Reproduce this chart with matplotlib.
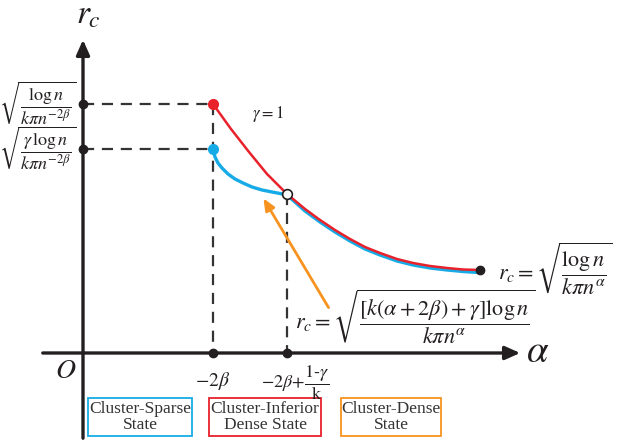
import matplotlib
matplotlib.use("Agg")
import matplotlib.pyplot as plt
from matplotlib.patches import FancyBboxPatch

plt.rcParams["mathtext.fontset"] = "stix"
plt.rcParams["font.family"] = ["Liberation Serif", "DejaVu Serif"]

# schematic units: O = (0, 0)
X_KNEE = 1.30     # -2beta
X_JOIN = 2.04     # -2beta + (1-gamma)/k
Y_TOP = 2.49      # sqrt(log n / (k pi n^-2beta))
Y_GAMMA = 2.04    # sqrt(gamma log n / (k pi n^-2beta))
Y_JOIN = 1.59

# curves
red_x = [1.30, 1.48, 1.66, 1.84, 2.04, 2.22, 2.37, 2.52, 2.67, 2.82, 2.97,
         3.14, 3.30, 3.47, 3.64, 3.80, 3.97]
red_y = [2.49, 2.24, 2.01, 1.79, 1.59, 1.44, 1.33, 1.23, 1.14, 1.06, 1.00,
         0.94, 0.90, 0.87, 0.85, 0.835, 0.83]
blue_x = [1.30, 1.32, 1.35, 1.39, 1.45, 1.52, 1.60, 1.69, 1.79, 1.89, 1.97, 2.04,
          2.22, 2.37, 2.52, 2.67, 2.82, 2.97, 3.14, 3.30, 3.47, 3.64, 3.80, 3.95]
blue_y = [2.04, 1.96, 1.90, 1.85, 1.79, 1.74, 1.70, 1.66, 1.63, 1.61, 1.595, 1.58,
          1.42, 1.31, 1.21, 1.12, 1.04, 0.98, 0.92, 0.88, 0.85, 0.83, 0.815, 0.805]

RED = "#E8212B"
BLUE = "#16ABE6"
ORANGE = "#F7931E"
DARK = "#231F20"

fig = plt.figure(figsize=(6.38, 4.46), dpi=100)
ax = fig.add_axes([0, 0, 1, 1])
ax.set_xlim(-0.83, 5.55)
ax.set_ylim(-0.93, 3.53)
ax.axis("off")

# axes with arrows
ax.annotate("", xy=(4.40, 0), xytext=(-0.43, 0),
            arrowprops=dict(arrowstyle="-|>,head_length=0.9,head_width=0.4", lw=2.4, color=DARK))
ax.annotate("", xy=(0, 3.16), xytext=(0, -0.88),
            arrowprops=dict(arrowstyle="-|>,head_length=0.9,head_width=0.4", lw=2.4, color=DARK))
ax.text(0.05, 3.38, r"$r_c$", fontsize=24, color=DARK, ha="center", va="center")
ax.text(4.55, 0.0, r"$\alpha$", fontsize=28, color=DARK, ha="center", va="center")
ax.text(-0.17, -0.18, r"$O$", fontsize=20, color=DARK, ha="center", va="center")

# dashed guides
dash = dict(color="#333333", lw=1.6, ls=(0, (5, 3.5)))
ax.plot([0, X_KNEE], [Y_TOP, Y_TOP], **dash)
ax.plot([0, X_KNEE], [Y_GAMMA, Y_GAMMA], **dash)
ax.plot([X_KNEE, X_KNEE], [Y_TOP, 0], **dash)
ax.plot([X_JOIN, X_JOIN], [Y_JOIN, 0], **dash)

# curves
ax.plot(blue_x, blue_y, color=BLUE, lw=2.4, solid_capstyle="round", zorder=3)
ax.plot(red_x, red_y, color=RED, lw=1.8, solid_capstyle="round", zorder=4)

# markers
ax.plot([0, 0, X_KNEE, X_JOIN, red_x[-1]], [Y_TOP, Y_GAMMA, 0, 0, red_y[-1]], "o",
        color=DARK, ms=6, zorder=5)
ax.plot([X_KNEE], [Y_TOP], "o", color=RED, ms=7, zorder=5)
ax.plot([X_KNEE], [Y_GAMMA], "o", color=BLUE, ms=7, zorder=5)
ax.plot([X_JOIN], [Y_JOIN], "o", mfc="white", mec=DARK, mew=1.2, ms=7, zorder=6)

# orange pointer
ax.annotate("", xy=(1.79, 1.57), xytext=(2.47, 0.43),
            arrowprops=dict(arrowstyle="-|>,head_length=0.7,head_width=0.3", lw=2.0, color=ORANGE))

# y labels
ax.text(-0.07, Y_TOP, r"$\sqrt{\dfrac{\log n}{k\pi n^{-2\beta}}}$", fontsize=13,
        color=DARK, ha="right", va="center")
ax.text(-0.07, Y_GAMMA, r"$\sqrt{\dfrac{\gamma\,\log n}{k\pi n^{-2\beta}}}$", fontsize=13,
        color=DARK, ha="right", va="center")

# x labels
ax.text(X_KNEE, -0.28, r"$-2\beta$", fontsize=14, color=DARK, ha="center", va="center")
ax.text(X_JOIN + 0.08, -0.30, r"$-2\beta\!+\!\dfrac{1\mathrm{\text{-}}\gamma}{\mathrm{k}}$",
        fontsize=13, color=DARK, ha="center", va="center")

# formulas
ax.text(1.85, 2.39, r"$\gamma=1$", fontsize=12, color=DARK, ha="center", va="center")
ax.text(4.15, 0.84, r"$r_c=\sqrt{\dfrac{\log n}{k\pi n^{\alpha}}}$", fontsize=16,
        color=DARK, ha="left", va="center")
ax.text(2.12, 0.36, r"$r_c=\sqrt{\dfrac{[k(\alpha+2\beta)+\gamma]\log n}{k\pi n^{\alpha}}}$",
        fontsize=16, color=DARK, ha="left", va="center")

# state boxes
box_labels = ["Cluster-Sparse\nState", "Cluster-Inferior\nDense State", "Cluster-Dense\nState"]
box_colors = [BLUE, RED, ORANGE]
box_left = [0.05, 1.26, 2.58]
box_width = [1.04, 1.12, 1.00]
for lbl, col, x0, w in zip(box_labels, box_colors, box_left, box_width):
    ax.add_patch(FancyBboxPatch((x0, -0.83), w, 0.38, boxstyle="square,pad=0",
                                fc="white", ec=col, lw=1.3))
    ax.text(x0 + w / 2, -0.64, lbl, fontsize=12.5, color="#333333", ha="center",
            va="center", linespacing=1.0)

fig.savefig("out.png", dpi=100)
